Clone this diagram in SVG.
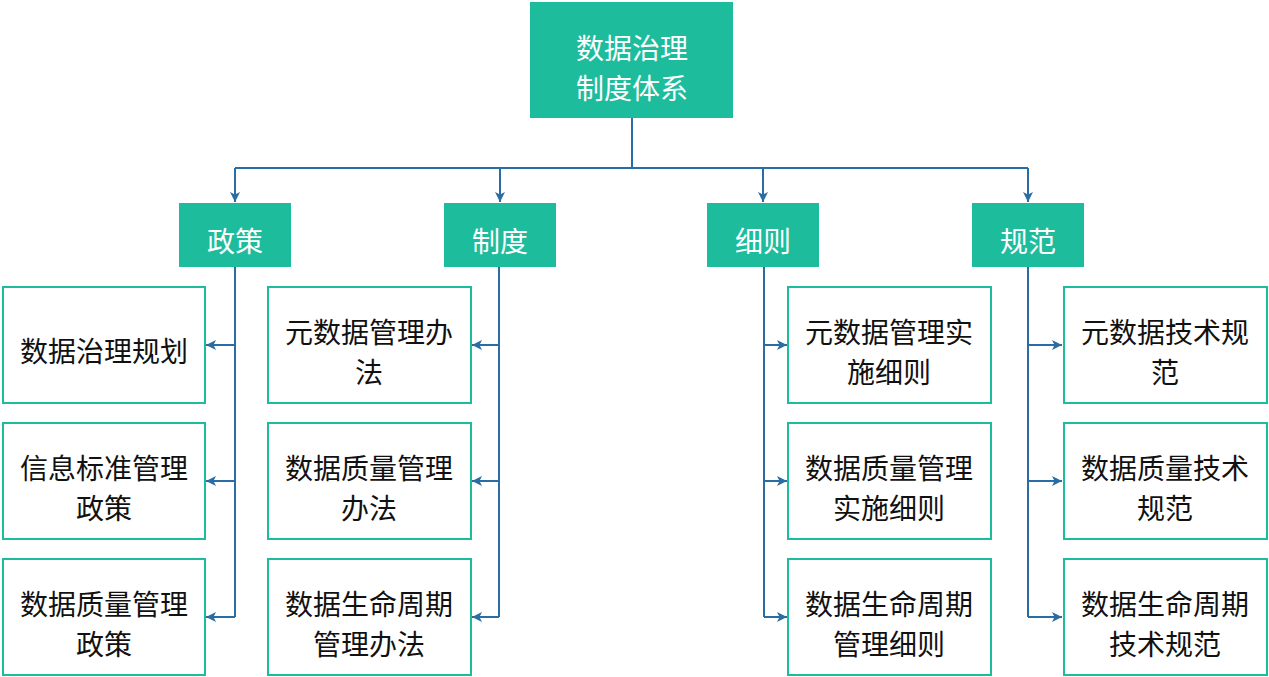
<svg xmlns="http://www.w3.org/2000/svg" width="1269" height="677" viewBox="0 0 1269 677">
<defs>
<style>
.fill{fill:#1dbc9c;}
.leaf{fill:#ffffff;stroke:#1dbc9c;stroke-width:2;}
.wt{fill:#ffffff;font-family:"Noto Sans CJK SC","Noto Sans",sans-serif;font-size:28px;text-anchor:middle;dominant-baseline:central;}
.bt{fill:#111111;font-family:"Noto Sans CJK SC","Noto Sans",sans-serif;font-size:28px;text-anchor:middle;dominant-baseline:central;}
.ln{fill:none;stroke:#2a6ca4;stroke-width:2;}
</style>
<marker id="arr" viewBox="0 0 10 10" refX="10" refY="5" markerWidth="10" markerHeight="10" markerUnits="userSpaceOnUse" orient="auto">
<path d="M0,0 L10,5 L0,10 L2.5,5 z" fill="#2a6ca4"/>
</marker>
</defs>
<g id="connectors">
<path class="ln" d="M632,118 V168"/>
<path class="ln" d="M235,168 H1028"/>
<path class="ln" d="M235,168 V202" marker-end="url(#arr)"/>
<path class="ln" d="M500,168 V202" marker-end="url(#arr)"/>
<path class="ln" d="M763,168 V202" marker-end="url(#arr)"/>
<path class="ln" d="M1028,168 V202" marker-end="url(#arr)"/>
<path class="ln" d="M235,267 V617"/>
<path class="ln" d="M235,345 H206" marker-end="url(#arr)"/>
<path class="ln" d="M235,481 H206" marker-end="url(#arr)"/>
<path class="ln" d="M235,617 H206" marker-end="url(#arr)"/>
<path class="ln" d="M499,267 V617"/>
<path class="ln" d="M499,345 H472" marker-end="url(#arr)"/>
<path class="ln" d="M499,481 H472" marker-end="url(#arr)"/>
<path class="ln" d="M499,617 H472" marker-end="url(#arr)"/>
<path class="ln" d="M764,267 V617"/>
<path class="ln" d="M764,345 H787" marker-end="url(#arr)"/>
<path class="ln" d="M764,481 H787" marker-end="url(#arr)"/>
<path class="ln" d="M764,617 H787" marker-end="url(#arr)"/>
<path class="ln" d="M1028,267 V617"/>
<path class="ln" d="M1028,345 H1062" marker-end="url(#arr)"/>
<path class="ln" d="M1028,481 H1062" marker-end="url(#arr)"/>
<path class="ln" d="M1028,617 H1062" marker-end="url(#arr)"/>
</g>
<g id="root">
<rect class="fill" x="530" y="2" width="203" height="116"/>
<text class="wt" x="632" y="47">数据治理</text>
<text class="wt" x="632" y="87">制度体系</text>
</g>
<g id="cat-policy">
<rect class="fill" x="179" y="203" width="112" height="64"/>
<text class="wt" x="235" y="240">政策</text>
</g>
<g id="cat-system">
<rect class="fill" x="444" y="203" width="112" height="64"/>
<text class="wt" x="500" y="240">制度</text>
</g>
<g id="cat-rules">
<rect class="fill" x="707" y="203" width="112" height="64"/>
<text class="wt" x="763" y="240">细则</text>
</g>
<g id="cat-standard">
<rect class="fill" x="972" y="203" width="112" height="64"/>
<text class="wt" x="1028" y="240">规范</text>
</g>
<g id="leaf-1-1">
<rect class="leaf" x="3" y="287" width="202" height="116"/>
<text class="bt" x="104" y="350">数据治理规划</text>
</g>
<g id="leaf-1-2">
<rect class="leaf" x="3" y="423" width="202" height="116"/>
<text class="bt" x="104" y="467">信息标准管理</text>
<text class="bt" x="104" y="507">政策</text>
</g>
<g id="leaf-1-3">
<rect class="leaf" x="3" y="559" width="202" height="116"/>
<text class="bt" x="104" y="603">数据质量管理</text>
<text class="bt" x="104" y="643">政策</text>
</g>
<g id="leaf-2-1">
<rect class="leaf" x="268" y="287" width="203" height="116"/>
<text class="bt" x="369" y="331">元数据管理办</text>
<text class="bt" x="369" y="371">法</text>
</g>
<g id="leaf-2-2">
<rect class="leaf" x="268" y="423" width="203" height="116"/>
<text class="bt" x="369" y="467">数据质量管理</text>
<text class="bt" x="369" y="507">办法</text>
</g>
<g id="leaf-2-3">
<rect class="leaf" x="268" y="559" width="203" height="116"/>
<text class="bt" x="369" y="603">数据生命周期</text>
<text class="bt" x="369" y="643">管理办法</text>
</g>
<g id="leaf-3-1">
<rect class="leaf" x="788" y="287" width="203" height="116"/>
<text class="bt" x="889" y="331">元数据管理实</text>
<text class="bt" x="889" y="371">施细则</text>
</g>
<g id="leaf-3-2">
<rect class="leaf" x="788" y="423" width="203" height="116"/>
<text class="bt" x="889" y="467">数据质量管理</text>
<text class="bt" x="889" y="507">实施细则</text>
</g>
<g id="leaf-3-3">
<rect class="leaf" x="788" y="559" width="203" height="116"/>
<text class="bt" x="889" y="603">数据生命周期</text>
<text class="bt" x="889" y="643">管理细则</text>
</g>
<g id="leaf-4-1">
<rect class="leaf" x="1064" y="287" width="203" height="116"/>
<text class="bt" x="1165" y="331">元数据技术规</text>
<text class="bt" x="1165" y="371">范</text>
</g>
<g id="leaf-4-2">
<rect class="leaf" x="1064" y="423" width="203" height="116"/>
<text class="bt" x="1165" y="467">数据质量技术</text>
<text class="bt" x="1165" y="507">规范</text>
</g>
<g id="leaf-4-3">
<rect class="leaf" x="1064" y="559" width="203" height="116"/>
<text class="bt" x="1165" y="603">数据生命周期</text>
<text class="bt" x="1165" y="643">技术规范</text>
</g>
</svg>
